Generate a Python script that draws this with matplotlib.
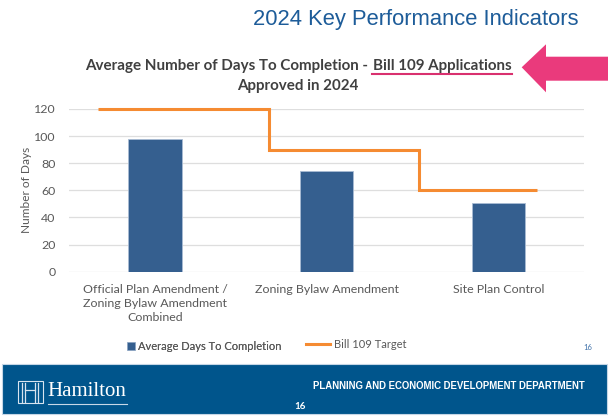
import numpy as np
import matplotlib
matplotlib.use("Agg")
from matplotlib import pyplot as plt
from matplotlib import font_manager
from matplotlib.patches import Rectangle, Polygon
from matplotlib.lines import Line2D

# data
categories = ["Official Plan Amendment /\nZoning Bylaw Amendment\nCombined",
              "Zoning Bylaw Amendment",
              "Site Plan Control"]
avg_days = [98, 74, 51]
target_days = [120, 90, 60]
target_edges = [-0.335, 0.666, 1.538, 2.224]   # where the target steps change
y_ticks = [0, 20, 40, 60, 80, 100, 120]

W, H = 609, 417
fig = plt.figure(figsize=(W / 100, H / 100), dpi=100)
fig.patch.set_facecolor("white")


def fx(px):
    return px / W


def fy(py):
    return 1 - py / H


def fit(t, width_px):
    # shrink/grow a text so it spans width_px pixels like on the slide
    r = fig.canvas.get_renderer()
    w = t.get_window_extent(r).width
    t.set_fontsize(t.get_fontsize() * width_px / w)


installed = {f.name for f in font_manager.fontManager.ttflist}
narrow = "Liberation Sans Narrow" if "Liberation Sans Narrow" in installed else "Liberation Sans"

gray = "#595959"
font = "Lato"
bar_col = "#355f8f"
orange = "#f58b32"

ax = fig.add_axes([fx(69.3), fy(271.7), fx(584) - fx(69.3), fy(109) - fy(271.7)])
x = np.arange(len(categories))
ax.bar(x, avg_days, width=0.31, color=bar_col, edgecolor="#a9bcd4", linewidth=0.6,
       zorder=3)
ax.stairs(target_days, target_edges, baseline=None, color=orange, linewidth=2.2,
          zorder=4, clip_on=False)

ax.set_xlim(-0.5, 2.5)
ax.set_ylim(0, 120)
ax.set_yticks(y_ticks)
ax.set_xticks(x)
ax.set_xticklabels(categories, fontsize=8.9, color=gray, family=font, linespacing=1.3)
for lab in ax.get_yticklabels():
    lab.set_fontsize(8.9)
    lab.set_color(gray)
    lab.set_family(font)
ax.tick_params(length=0)
ax.tick_params(axis="y", pad=10)
ax.tick_params(axis="x", pad=9)
ax.grid(axis="y", color="#dedede", linewidth=0.9, zorder=0)
for s in ax.spines.values():
    s.set_visible(False)
ax.set_ylabel("Number of Days", fontsize=8.6, color=gray, family=font)
ax.yaxis.set_label_coords((32 - 69.3) / (584 - 69.3), 0.5)

# legend, two separate entries as on the slide
h_bar = Rectangle((0, 0), 1, 1, facecolor=bar_col, edgecolor="#a9bcd4", linewidth=0.4)
h_line = Line2D([0], [0], color=orange, linewidth=2.2)
lg1 = fig.legend([h_bar], ["Average Days To Completion"], loc="center left",
                 bbox_to_anchor=(fx(127), fy(346.7)), frameon=False, borderpad=0,
                 borderaxespad=0, prop={"family": font, "size": 8}, labelcolor=gray,
                 handlelength=0.7, handleheight=0.7, handletextpad=0.3)
lg2 = fig.legend([h_line], ["Bill 109 Target"], loc="center left",
                 bbox_to_anchor=(fx(306), fy(344)), frameon=False, borderpad=0,
                 borderaxespad=0, prop={"family": font, "size": 8}, labelcolor=gray,
                 handlelength=2.2, handletextpad=0.35)
fig.add_artist(lg1)

# slide header
hdr = fig.text(fx(253), fy(19), "2024 Key Performance Indicators", fontsize=16,
               family="Liberation Sans", color="#1d5c99", va="center", ha="left")
fit(hdr, 327)

# chart title, part of it underlined
t1 = fig.text(fx(372), fy(66), "Average Number of Days To Completion - ", fontsize=10.9,
              fontweight="bold", family=font, color="#404040", ha="right", va="center")
t2 = fig.text(fx(373), fy(66), "Bill 109 Applications", fontsize=10.9,
              fontweight="bold", family=font, color="#404040", ha="left", va="center")
fit(t1, 287)
fit(t2, 139)
fig.text(fx(298), fy(86), "Approved in 2024", fontsize=t2.get_fontsize(),
         fontweight="bold", family=font, color="#404040", ha="center", va="center")
fig.add_artist(Line2D([fx(372), fx(512)], [fy(74), fy(74)], color="#d9306f",
                      linewidth=1.5, transform=fig.transFigure))

# pink arrow
arrow = Polygon([(fx(521.7), fy(67.3)), (fx(546), fy(44.3)), (fx(546), fy(56.7)),
                 (fx(608), fy(56.7)), (fx(608), fy(80.7)), (fx(546), fy(80.7)),
                 (fx(546), fy(92.3))], closed=True, transform=fig.transFigure,
                facecolor="#ea3a7c", edgecolor="none")
fig.add_artist(arrow)

# small page number
fig.text(fx(588), fy(348), "16", fontsize=5.5, color="#3d6fa8", family=font,
         ha="center", va="center")

# bottom banner
fig.add_artist(Rectangle((fx(1.5), fy(413.5)), fx(607) - fx(1.5), fy(364) - fy(413.5),
                         transform=fig.transFigure, facecolor="#00558c",
                         edgecolor="#c5d6e6", linewidth=0.8))
dep = fig.text(fx(313), fy(385.7), "PLANNING AND ECONOMIC DEVELOPMENT DEPARTMENT",
               fontsize=7.3, fontweight="bold", family=narrow, color="white",
               ha="left", va="center")
fit(dep, 273)
fig.text(fx(300), fy(406.5), "16", fontsize=7, fontweight="bold", family=font,
         color="white", ha="center", va="center")
ham = fig.text(fx(47.5), fy(391.5), "Hamilton", fontsize=15, family="Liberation Serif",
               color="white", ha="left", va="center")
fit(ham, 79)
fig.add_artist(Line2D([fx(48), fx(127)], [fy(403.5), fy(403.5)], color="#c8d8e8",
                      linewidth=0.8, transform=fig.transFigure))
# logo mark
fig.add_artist(Rectangle((fx(18), fy(403)), fx(43) - fx(18), fy(381) - fy(403),
                         transform=fig.transFigure, facecolor="none",
                         edgecolor="#d8e4ef", linewidth=0.8))
for lx in [22, 25, 35, 38]:
    fig.add_artist(Line2D([fx(lx), fx(lx)], [fy(402), fy(383)], color="#d8e4ef",
                          linewidth=0.9, transform=fig.transFigure))
fig.add_artist(Line2D([fx(25), fx(35)], [fy(390), fy(390)], color="#d8e4ef",
                      linewidth=0.9, transform=fig.transFigure))

fig.savefig("out.png", dpi=100)
